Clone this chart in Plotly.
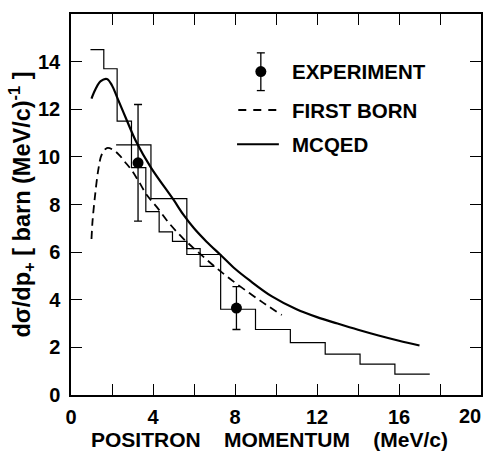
import plotly.graph_objects as go

# Monte Carlo histogram, fine binning (low momenta)
fine_edges = [0.95, 1.6, 2.25, 2.95, 3.65, 4.3, 4.95, 5.65, 6.3, 7.0]
fine_vals = [14.5, 13.7, 11.5, 9.55, 7.7, 6.85, 6.45, 6.15, 5.4]

# Monte Carlo histogram, coarse binning
coarse_edges = [2.2, 3.9, 5.65, 7.3, 9.0, 10.7, 12.4, 14.1, 15.8, 17.5]
coarse_vals = [10.5, 8.25, 5.9, 3.6, 2.75, 2.2, 1.72, 1.3, 0.88]

# Measured points with errors
exp_p = [3.27, 8.07]
exp_val = [9.75, 3.65]
exp_err = [2.45, 0.9]

# First Born approximation
born_p = [1.0, 1.05, 1.17, 1.33, 1.5, 1.75, 2.05, 2.38, 2.62, 2.95, 3.35, 3.7,
          4.16, 4.8, 5.5, 6.2, 7.0, 7.8, 8.7, 9.5, 10.28]
born_val = [6.55, 7.3, 8.35, 9.45, 10.1, 10.37, 10.3, 10.05, 9.8, 9.45, 8.9, 8.4,
            7.92, 7.2, 6.55, 6.0, 5.4, 4.85, 4.28, 3.8, 3.36]

# MCQED calculation
mcqed_p = [1.0, 1.2, 1.45, 1.75, 2.0, 2.25, 2.7, 3.2, 3.9, 5.0, 5.5, 6.0, 6.6,
           7.3, 8.0, 8.7, 9.8, 11.0, 12.0, 13.0, 14.0, 15.0, 16.0, 17.0]
mcqed_val = [12.45, 12.85, 13.18, 13.27, 13.0, 12.5, 11.58, 10.6, 9.55, 8.2, 7.55, 7.0, 6.45,
             5.88, 5.3, 4.82, 4.14, 3.6, 3.27, 3.0, 2.74, 2.5, 2.28, 2.08]

x_labelled = [0, 4, 8, 12, 16]
x_last = 20
y_ticks = list(range(0, 15, 2))

FONT = "Liberation Sans, Arial, Helvetica, sans-serif"
SIZE = 20
GAP = "\u00a0" * 4


def bold(size=SIZE):
    return dict(family=FONT, size=size, color="black", weight="bold")


fig = go.Figure()


def step_trace(edges, vals):
    return go.Scatter(x=edges, y=vals + [vals[-1]], mode="lines", line_shape="hv",
                      line=dict(color="black", width=1.2), showlegend=False,
                      hoverinfo="skip")


fig.add_trace(step_trace(fine_edges, fine_vals))
fig.add_trace(step_trace(coarse_edges, coarse_vals))

fig.add_trace(go.Scatter(x=born_p, y=born_val, mode="lines", line_shape="spline",
                         line=dict(color="black", width=1.8, dash="8px,5px"),
                         showlegend=False))
fig.add_trace(go.Scatter(x=mcqed_p, y=mcqed_val, mode="lines", line_shape="spline",
                         line=dict(color="black", width=2.2, smoothing=1.0),
                         showlegend=False))
fig.add_trace(go.Scatter(x=exp_p, y=exp_val, mode="markers",
                         marker=dict(color="black", size=11),
                         error_y=dict(type="data", array=exp_err, color="black",
                                      thickness=1.3, width=4),
                         showlegend=False))

# Legend drawn in axis-domain coordinates
leg_x_sym = 0.463
leg_x_text = 0.533
rows = {"EXPERIMENT": 0.849, "FIRST BORN": 0.748, "MCQED": 0.658}
shapes = [
    dict(type="line", xref="x domain", yref="y domain", x0=leg_x_sym, x1=leg_x_sym,
         y0=0.799, y1=0.898, line=dict(color="black", width=1.3)),
    dict(type="line", xref="x domain", yref="y domain", xsizemode="pixel",
         xanchor=leg_x_sym, x0=-4, x1=4, y0=0.898, y1=0.898,
         line=dict(color="black", width=1.3)),
    dict(type="line", xref="x domain", yref="y domain", xsizemode="pixel",
         xanchor=leg_x_sym, x0=-4, x1=4, y0=0.799, y1=0.799,
         line=dict(color="black", width=1.3)),
    dict(type="circle", xref="x domain", yref="y domain", xsizemode="pixel",
         ysizemode="pixel", xanchor=leg_x_sym, yanchor=rows["EXPERIMENT"],
         x0=-5.5, x1=5.5, y0=-5.5, y1=5.5, fillcolor="black",
         line=dict(color="black", width=0)),
    dict(type="line", xref="x domain", yref="y domain", x0=0.408, x1=0.507,
         y0=rows["FIRST BORN"], y1=rows["FIRST BORN"],
         line=dict(color="black", width=1.8, dash="8px,7px")),
    dict(type="line", xref="x domain", yref="y domain", x0=0.405, x1=0.507,
         y0=rows["MCQED"], y1=rows["MCQED"], line=dict(color="black", width=2.0)),
]
annotations = [
    dict(xref="x domain", yref="y domain", x=leg_x_text, y=yv, text=name,
         showarrow=False, xanchor="left", yanchor="middle", font=bold(20.5))
    for name, yv in rows.items()
]
# last x tick label sits flush against the right edge of the frame
annotations.append(dict(xref="x", yref="paper", x=x_last, y=0, yshift=-8, xshift=2,
                        text=str(x_last), showarrow=False, xanchor="right",
                        yanchor="top", font=bold()))
# x-axis title, placed below the tick labels (paper coords span the plot area)
annotations.append(dict(xref="paper", yref="paper", x=0.483, y=-0.117,
                        text=f"POSITRON{GAP}MOMENTUM{GAP}(MeV/c)", showarrow=False,
                        xanchor="center", yanchor="middle", font=bold(21)))

axis_common = dict(showline=True, linecolor="black", linewidth=1.5, mirror="allticks",
                   ticks="inside", ticklen=11, tickwidth=1.3, tickcolor="black",
                   showgrid=False, zeroline=False, tickfont=bold())

fig.update_layout(
    width=489, height=452,
    margin=dict(l=71, r=6, t=14, b=57),
    paper_bgcolor="white", plot_bgcolor="white",
    font=dict(family=FONT, size=SIZE, color="black"),
    shapes=shapes, annotations=annotations,
    xaxis=dict(range=[0, 20], tickvals=x_labelled, ticklabelstandoff=3,
               minor=dict(ticks="inside", ticklen=11, tickwidth=1.3, tickcolor="black",
                          dtick=2, tick0=0, showgrid=False),
               **axis_common),
    yaxis=dict(range=[0, 16], tickvals=y_ticks, ticklabelstandoff=5,
               title=dict(text="dσ/dp<sub>+</sub> [ barn (MeV/c)<sup>-1</sup> ]", standoff=1,
                          font=bold(23.5)),
               **axis_common),
)

fig.write_html("out.html")
